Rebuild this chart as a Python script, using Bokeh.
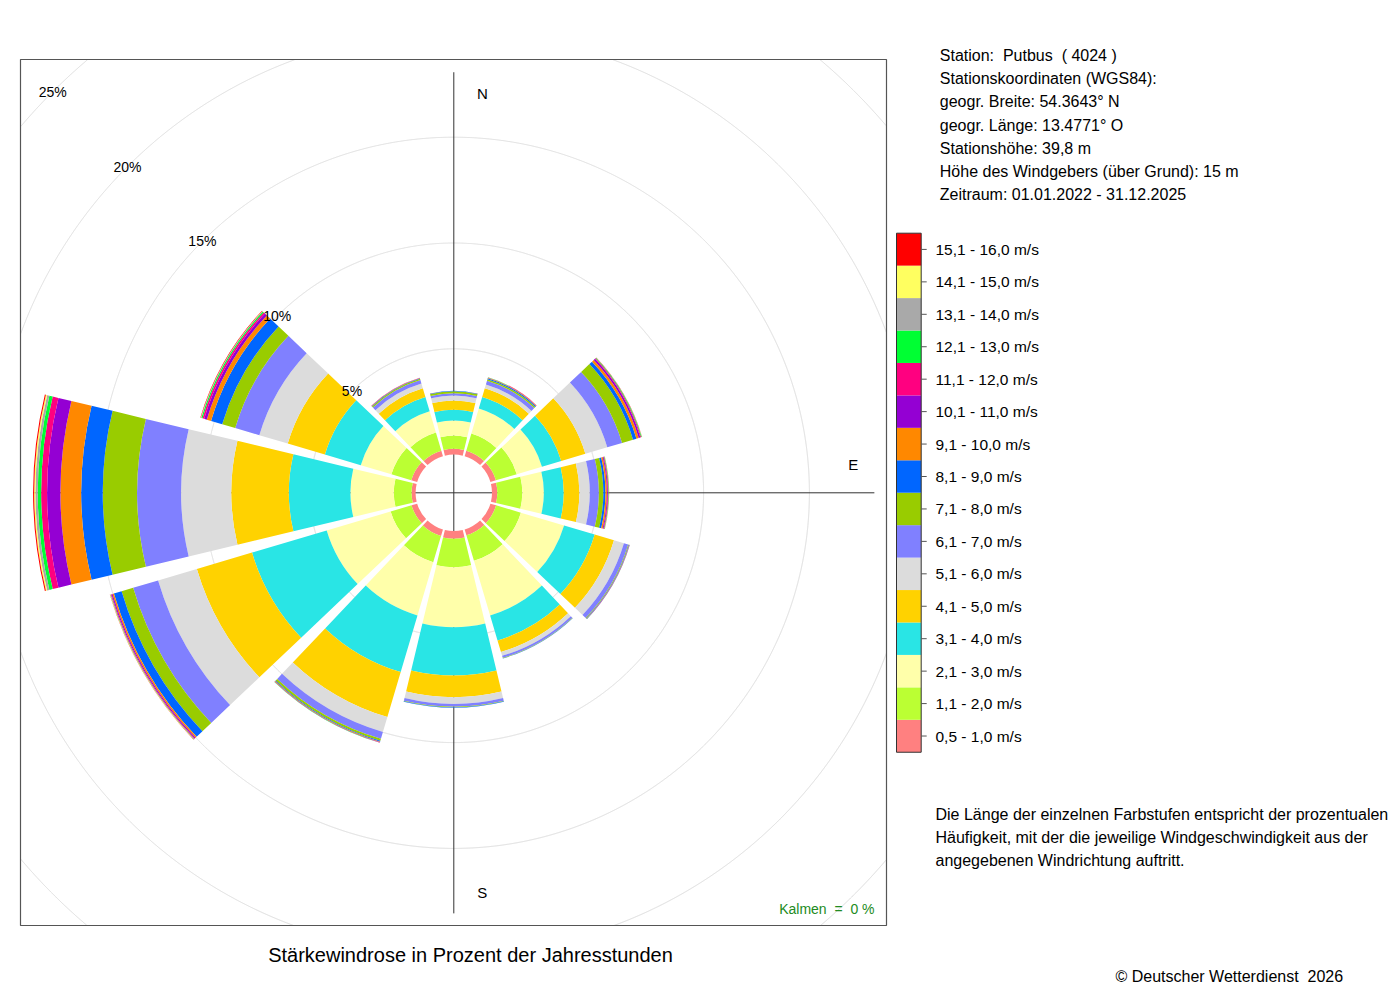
import numpy as np
from bokeh.plotting import figure
from bokeh.models import Range1d, ColumnDataSource
from bokeh.core.properties import value
from bokeh.embed import file_html
from bokeh.resources import INLINE

# ---------------- data ----------------
speed_classes = ["0,5 - 1,0 m/s", "1,1 - 2,0 m/s", "2,1 - 3,0 m/s", "3,1 - 4,0 m/s",
                 "4,1 - 5,0 m/s", "5,1 - 6,0 m/s", "6,1 - 7,0 m/s", "7,1 - 8,0 m/s",
                 "8,1 - 9,0 m/s", "9,1 - 10,0 m/s", "10,1 - 11,0 m/s", "11,1 - 12,0 m/s",
                 "12,1 - 13,0 m/s", "13,1 - 14,0 m/s", "14,1 - 15,0 m/s", "15,1 - 16,0 m/s"]
class_colors = ["#FF8080", "#BBFF33", "#FFFFAA", "#29E5E5", "#FFD200", "#DCDCDC",
                "#8080FF", "#99CC00", "#0066FF", "#FF8800", "#9400D3", "#FF0080",
                "#00FF33", "#A9A9A9", "#FFFF60", "#FF0000"]

direction_deg = [0, 30, 60, 90, 120, 150, 180, 210, 240, 270, 300, 330]

# percent of hours per speed class (same order as speed_classes)
freq_000 = [0.27, 0.63, 0.71, 0.51, 0.44, 0.23, 0.11, 0.09, 0.02, 0.01, 0.0, 0.0, 0.0, 0.0, 0.0, 0.0]
freq_030 = [0.27, 0.85, 1.23, 0.57, 0.43, 0.18, 0.19, 0.07, 0.05, 0.02, 0.01, 0.01, 0.005, 0.003, 0.001, 0.001]
freq_060 = [0.27, 1.03, 1.24, 0.95, 1.19, 1.08, 0.73, 0.54, 0.17, 0.11, 0.08, 0.04, 0.03, 0.01, 0.005, 0.005]
freq_090 = [0.25, 1.18, 1.02, 0.94, 0.74, 0.49, 0.43, 0.21, 0.10, 0.07, 0.04, 0.03, 0.02, 0.005, 0.005, 0.005]
freq_120 = [0.28, 1.22, 2.13, 1.51, 0.95, 0.49, 0.21, 0.03, 0.02, 0.01, 0.01, 0.005, 0.005, 0.0, 0.0, 0.0]
freq_150 = [0.29, 1.26, 2.69, 1.23, 0.57, 0.19, 0.10, 0.02, 0.01, 0.0, 0.0, 0.0, 0.0, 0.0, 0.0, 0.0]
freq_180 = [0.37, 1.34, 2.84, 2.28, 1.02, 0.32, 0.13, 0.03, 0.02, 0.0, 0.0, 0.0, 0.0, 0.0, 0.0, 0.0]
freq_210 = [0.32, 1.30, 2.62, 2.79, 2.22, 0.74, 0.33, 0.10, 0.04, 0.03, 0.01, 0.01, 0.005, 0.0, 0.0, 0.0]
freq_240 = [0.28, 1.03, 3.15, 3.68, 2.72, 1.91, 1.23, 0.57, 0.38, 0.07, 0.05, 0.03, 0.02, 0.01, 0.01, 0.01]
freq_270 = [0.19, 0.84, 2.05, 2.91, 2.72, 2.37, 2.08, 1.62, 1.02, 0.98, 0.63, 0.28, 0.16, 0.11, 0.06, 0.05]
freq_300 = [0.29, 0.98, 1.51, 1.77, 1.83, 1.40, 1.19, 0.64, 0.55, 0.21, 0.13, 0.08, 0.06, 0.02, 0.01, 0.02]
freq_330 = [0.27, 0.90, 1.04, 0.71, 0.43, 0.23, 0.17, 0.06, 0.03, 0.01, 0.005, 0.005, 0.002, 0.0, 0.0, 0.0]

grid_pcts = [5, 10, 15, 20, 25]
axis_labels = ["N", "E", "S"]
calm_pct = 0

NB = "\u00a0"
station_lines = ["Station:" + NB + " Putbus" + NB + " ( 4024 )",
                 "Stationskoordinaten (WGS84):",
                 "geogr. Breite: 54.3643\u00b0 N",
                 "geogr. L\u00e4nge: 13.4771\u00b0 O",
                 "Stationsh\u00f6he: 39,8 m",
                 "H\u00f6he des Windgebers (\u00fcber Grund): 15 m",
                 "Zeitraum: 01.01.2022 - 31.12.2025"]
note_lines = ["Die L\u00e4nge der einzelnen Farbstufen entspricht der prozentualen",
              "H\u00e4ufigkeit, mit der die jeweilige Windgeschwindigkeit aus der",
              "angegebenen Windrichtung auftritt."]
title_text = "St\u00e4rkewindrose in Prozent der Jahresstunden"
copyright_text = "\u00a9 Deutscher Wetterdienst" + NB + " 2026"
calm_text = "Kalmen" + NB + " =" + NB + " " + str(calm_pct) + " %"

freqs = [freq_000, freq_030, freq_060, freq_090, freq_120, freq_150,
         freq_180, freq_210, freq_240, freq_270, freq_300, freq_330]

# ---------------- layout (page pixels, y downward -> data y = -Y) ----------------
FONT = value("Liberation Sans")
CX, CY = 453.3, 492.3          # rose centre
HOLE = 38.2                    # radius of the calm circle
K = 21.16                      # pixels per percent
HALF = 13.5                    # half width of a sector, degrees
FL, FR, FT, FB = 20, 886, 59, 925
W, H = 1392, 992

def rad(p):
    return HOLE + K * np.asarray(p, dtype=float)

p = figure(width=W, height=H, x_range=Range1d(0, W), y_range=Range1d(-H, 0),
           output_backend="svg", toolbar_location=None, x_axis_type=None, y_axis_type=None,
           min_border=0, outline_line_color=None)
p.background_fill_color = "white"
p.border_fill_color = "white"

# grid circles clipped to the frame
th = np.linspace(0, 2 * np.pi, 4001)
for g in grid_pcts:
    r = rad(g)
    xs = CX + r * np.cos(th)
    ys = CY + r * np.sin(th)
    m = (xs < FL) | (xs > FR) | (ys < FT) | (ys > FB)
    xs = xs.copy(); ys = ys.copy()
    xs[m] = np.nan; ys[m] = np.nan
    p.line(xs, -ys, line_color="#dcdcdc", line_width=1)

# axis lines (length = longest sector)
totals = [sum(f) for f in freqs]
L = float(rad(max(totals)))
p.segment(x0=[CX, CX - L], y0=[-(CY - L), -CY], x1=[CX, CX + L], y1=[-(CY + L), -CY],
          line_color="#333333", line_width=1)

# wedges
xs, ys, ri, ro, sa, ea, cols = [], [], [], [], [], [], []
for d, f in zip(direction_deg, freqs):
    cum = np.concatenate([[0.0], np.cumsum(f)])
    for j in range(len(f)):
        if f[j] <= 0:
            continue
        xs.append(CX); ys.append(-CY)
        ri.append(float(rad(cum[j]))); ro.append(float(rad(cum[j + 1])))
        sa.append(np.radians(90 - d - HALF)); ea.append(np.radians(90 - d + HALF))
        cols.append(class_colors[j])
src = ColumnDataSource(dict(x=xs, y=ys, ri=ri, ro=ro, sa=sa, ea=ea, c=cols))
p.annular_wedge(x="x", y="y", inner_radius="ri", outer_radius="ro", start_angle="sa",
                end_angle="ea", fill_color="c", line_color=None, source=src)

# frame
p.quad(left=[FL], right=[FR], top=[-FT], bottom=[-FB], fill_color=None,
       line_color="#555555", line_width=1.2)

# percent labels along the NW diagonal
lx = [CX - float(rad(g)) * np.sin(np.radians(45)) for g in grid_pcts]
ly = [-(CY - float(rad(g)) * np.cos(np.radians(45))) for g in grid_pcts]
p.text(x=lx, y=ly, text=[f"{g}%" for g in grid_pcts], text_font=FONT,
       text_font_size=value("14px"), text_align="center", text_baseline="middle",
       text_color="black")

# direction labels
lr = 0.95 * L
off = 28.5
p.text(x=[CX + off, CX + lr, CX + off], y=[-(CY - lr), -(CY - off), -(CY + lr)],
       text=axis_labels, text_font=FONT, text_font_size=value("15px"),
       text_align="center", text_baseline="middle", text_color="black")

# calm
p.text(x=[874], y=[-908], text=[calm_text], text_font=FONT,
       text_font_size=value("14px"), text_align="right", text_baseline="middle",
       text_color="#228B22")

# title
p.text(x=[470], y=[-954], text=[title_text], text_font=FONT, text_font_size=value("20px"),
       text_align="center", text_baseline="middle", text_color="black")

# station info
p.text(x=[939.3] * len(station_lines), y=[-(55 + 23.2 * i) for i in range(len(station_lines))],
       text=station_lines, text_font=FONT, text_font_size=value("16px"),
       text_align="left", text_baseline="middle", text_color="black")

# legend colour bar
n = len(speed_classes)
LT, LH, LL, LR = 232.7, 32.44, 896, 920.7
tops = [LT + LH * (n - 1 - j) for j in range(n)]
p.quad(left=[LL] * n, right=[LR] * n, top=[-t for t in tops], bottom=[-(t + LH) for t in tops],
       fill_color=class_colors, line_color=None)
p.quad(left=[LL], right=[LR], top=[-LT], bottom=[-(LT + LH * n)], fill_color=None,
       line_color="#333333", line_width=1)
cy_ = [-(t + LH / 2) for t in tops]
p.segment(x0=[LR] * n, y0=cy_, x1=[LR + 5.5] * n, y1=cy_, line_color="#555555", line_width=1)
p.text(x=[935] * n, y=cy_, text=speed_classes, text_font=FONT, text_font_size=value("15.5px"),
       text_align="left", text_baseline="middle", text_color="black")

# note
p.text(x=[935] * len(note_lines), y=[-(814 + 23 * i) for i in range(len(note_lines))],
       text=note_lines, text_font=FONT, text_font_size=value("16px"),
       text_align="left", text_baseline="middle", text_color="black")

# copyright
p.text(x=[1115], y=[-976], text=[copyright_text], text_font=FONT, text_font_size=value("16px"),
       text_align="left", text_baseline="middle", text_color="black")

open("out.html", "w").write(file_html(p, INLINE))
